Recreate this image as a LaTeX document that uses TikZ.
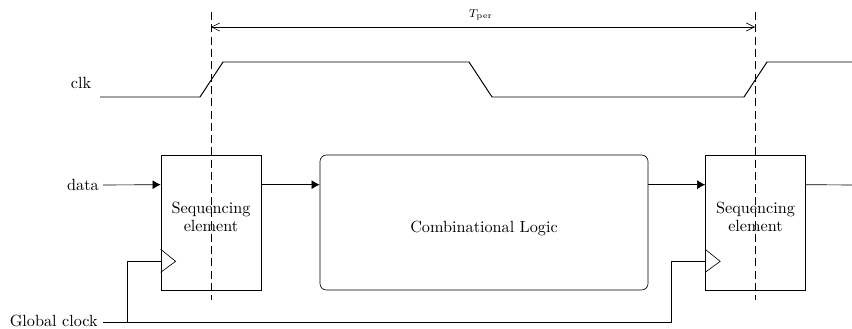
\documentclass[tikz,border=0pt]{standalone}
\usetikzlibrary{arrows.meta,calc}
\begin{document}
\begin{tikzpicture}[x=0.617pt,y=-0.617pt,
  seqbox/.style={draw,minimum width=61.7pt,minimum height=83.3pt,inner sep=0pt},
  seqtext/.style={align=center,inner sep=0pt,font=\fontsize{10}{11}\selectfont},
  combbox/.style={draw,rounded corners=4pt,minimum width=202.4pt,minimum height=83.3pt,inner sep=0pt},
  wave/.style={line width=0.6pt},
  guide/.style={dash pattern=on 5pt off 2.6pt},
  sig/.style={-{Latex[length=5pt,width=5.5pt]}},
  period/.style={{Straight Barb[length=5pt,width=5pt]}-{Straight Barb[length=5pt,width=5pt]}},
  lbl/.style={inner sep=0pt}]
\useasboundingbox (0,0) rectangle (852,328);
% labels
\node[lbl] (clk) at (81,83) {clk};
\node[lbl,anchor=east] (data) at (99,185) {data};
\node[lbl,anchor=base east] (gclk) at (98,326.5) {Global clock};
% blocks
\node[seqbox] (seq1) at (211,222.5) {};
\node[seqtext] (seq1t) at ($(seq1.center)+(0,-6)$) {Sequencing\\element};
\node[combbox] (comb) at (484,222.5) {};
\node[lbl,anchor=base] (combt) at ($(comb.center)+(0,9.5)$) {Combinational Logic};
\node[seqbox] (seq2) at (755.5,222.5) {};
\node[seqtext] (seq2t) at ($(seq2.center)+(0,-6)$) {Sequencing\\element};
% ports
\coordinate (s1in) at ($(seq1.north west)+(0,30)$);
\coordinate (s1out) at ($(seq1.north east)+(0,30)$);
\coordinate (cin) at ($(comb.north west)+(0,30)$);
\coordinate (cout) at ($(comb.north east)+(0,30)$);
\coordinate (s2in) at ($(seq2.north west)+(0,30)$);
\coordinate (s2out) at ($(seq2.north east)+(0,30)$);
\coordinate (s1clk) at ($(seq1.south west)+(0,-29)$);
\coordinate (s2clk) at ($(seq2.south west)+(0,-29)$);
\coordinate (outend) at (852,185);
\coordinate (gstart) at (103,322);
\coordinate (gbranch) at (127,322);
\coordinate (gcorner) at (671,322);
% clock triangles
\draw ($(s1clk)+(0,-12)$) -- ($(s1clk)+(15,0)$) -- ($(s1clk)+(0,11)$);
\draw ($(s2clk)+(0,-12)$) -- ($(s2clk)+(15,0)$) -- ($(s2clk)+(0,11)$);
% data path
\draw[sig] (data.east) ++(4,0) -- (s1in);
\draw[sig] (s1out) -- (cin);
\draw[sig] (cout) -- (s2in);
\draw (s2out) -- (outend);
% global clock
\draw (gstart) -- (gcorner) |- (s2clk);
\draw (gbranch) |- (s1clk);
% clk waveform
\draw[wave] (100,97) -- (200,97) -- (223,62) -- (469,62) -- (492,97) -- (744,97) -- (767,62) -- (852,62);
% guides
\coordinate (g1top) at (211,12);
\coordinate (g1bot) at (211,300);
\coordinate (g2top) at (755,12);
\coordinate (g2bot) at (755,300);
\draw[guide] (g1top) -- (g1bot);
\draw[guide] (g2top) -- (g2bot);
\coordinate (p1) at (211,27);
\coordinate (p2) at (755,27);
\draw[period] (p1) -- (p2) node[pos=0.496,above=0.5pt,font=\scriptsize] (tper) {$T_{\mathrm{per}}$};
\end{tikzpicture}
\end{document}
